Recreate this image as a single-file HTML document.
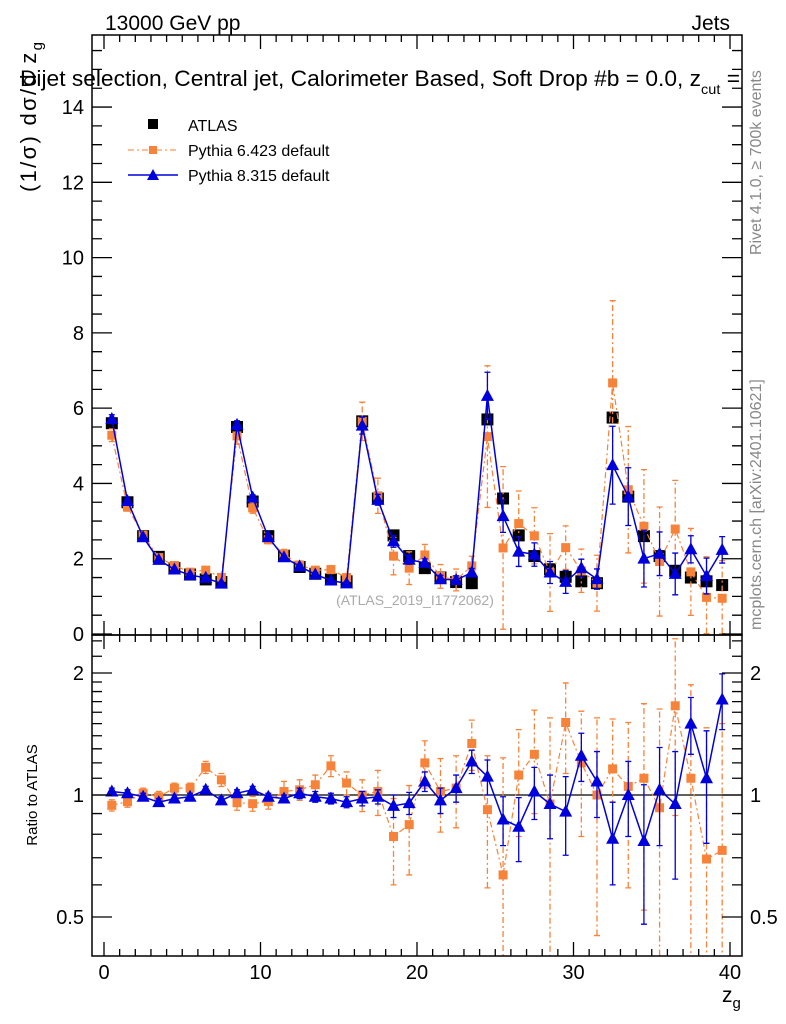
<!DOCTYPE html>
<html><head><meta charset="utf-8">
<style>
html,body{margin:0;background:#fff;overflow:hidden;width:786px;height:1024px;}
svg{display:block;font-family:"Liberation Sans",Arial,sans-serif;}
</style></head>
<body>
<svg id="plot" width="786" height="1024" viewBox="0 0 786 1024" xmlns="http://www.w3.org/2000/svg">
<text x="105" y="30" font-size="21">13000 GeV pp</text>
<text x="730" y="30" font-size="21" text-anchor="end">Jets</text>
<text transform="translate(36,192) rotate(-90)" font-size="22" textLength="150">(1/σ) dσ/d z<tspan font-size="15" dy="6">g</tspan></text>
<text x="20" y="86" font-size="22" textLength="720" lengthAdjust="spacingAndGlyphs">Dijet selection, Central jet, Calorimeter Based, Soft Drop #b = 0.0, z<tspan font-size="14" dy="8">cut</tspan><tspan dy="-8"> =</tspan></text>
<text transform="translate(761,255) rotate(-90)" font-size="16" fill="#888">Rivet 4.1.0, ≥ 700k events</text>
<text transform="translate(761,630) rotate(-90)" font-size="16" fill="#888">mcplots.cern.ch [arXiv:2401.10621]</text>
<text x="415" y="605" font-size="14" fill="#aaa" text-anchor="middle">(ATLAS_2019_I1772062)</text>
<text transform="translate(37,795) rotate(-90)" font-size="15" text-anchor="middle">Ratio to ATLAS</text>
<text x="722" y="1002" font-size="21">z<tspan font-size="15" dy="6">g</tspan></text>
<g id="legend">
 <rect x="148" y="119" width="10" height="10" fill="#000"/>
 <text x="188" y="131" font-size="16">ATLAS</text>
 <line x1="128" y1="150" x2="178" y2="150" stroke="#ff7f2a" stroke-dasharray="6,3,2,3"/>
 <rect x="149" y="146" width="8" height="8" fill="#f7833a"/>
 <text x="188" y="156" font-size="16">Pythia 6.423 default</text>
 <line x1="128" y1="175" x2="178" y2="175" stroke="#0000dd" stroke-width="1.5"/>
 <path d="M153,169 L159,180 L147,180 Z" fill="#0000dd"/>
 <text x="188" y="181" font-size="16">Pythia 8.315 default</text>
</g>
<g id="marks"></g>
<g id="axes"></g>
</svg>
<script>
const binCenters=[0.5,1.5,2.5,3.5,4.5,5.5,6.5,7.5,8.5,9.5,10.5,11.5,12.5,13.5,14.5,15.5,16.5,17.5,18.5,19.5,20.5,21.5,22.5,23.5,24.5,25.5,26.5,27.5,28.5,29.5,30.5,31.5,32.5,33.5,34.5,35.5,36.5,37.5,38.5,39.5];
const atlasValues=[5.6,3.5,2.6,2.05,1.75,1.58,1.45,1.38,5.5,3.52,2.6,2.08,1.78,1.6,1.45,1.4,5.65,3.6,2.62,2.07,1.75,1.5,1.38,1.35,5.7,3.6,2.62,2.07,1.72,1.52,1.4,1.35,5.75,3.65,2.6,2.07,1.68,1.5,1.4,1.3];
const py6Ratio=[0.943,0.963,1.01,0.99,1.04,1.04,1.17,1.09,0.957,0.952,0.963,1.02,1.03,1.06,1.18,1.07,1.0,1.02,0.79,0.845,1.2,1.02,1.04,1.34,0.92,0.635,1.12,1.26,0.95,1.51,1.2,1.0,1.16,1.05,1.1,0.93,1.66,1.1,0.695,0.73];
const py6RatioErr=[0.03,0.03,0.03,0.03,0.03,0.03,0.04,0.04,0.04,0.04,0.04,0.06,0.06,0.06,0.07,0.07,0.09,0.13,0.19,0.21,0.16,0.21,0.21,0.19,0.33,0.6,0.33,0.36,0.6,0.38,0.41,0.55,0.38,0.46,0.58,0.7,0.77,0.77,0.77,0.77];
const py8Ratio=[1.02,1.01,0.99,0.96,0.98,0.99,1.03,0.97,1.01,1.03,0.99,0.98,1.01,0.99,0.98,0.96,0.98,0.99,0.94,0.955,1.08,0.97,1.04,1.21,1.11,0.87,0.835,1.02,0.95,0.91,1.25,1.08,0.78,1.0,0.77,1.03,0.95,1.5,1.1,1.72];
const py8RatioErr=[0.02,0.02,0.02,0.02,0.02,0.02,0.02,0.02,0.02,0.02,0.02,0.02,0.03,0.03,0.03,0.03,0.04,0.04,0.06,0.06,0.06,0.07,0.08,0.08,0.11,0.12,0.15,0.15,0.17,0.2,0.17,0.2,0.18,0.21,0.29,0.28,0.33,0.24,0.34,0.27];
const mainTicks=[0,2,4,6,8,10,12,14];
const ratioTicks=[0.5,1,2];
const xTicks=[0,10,20,30,40];

const NS="http://www.w3.org/2000/svg";
const L=92,R=742,MT=35,MB=635,RB=956;
const xs=v=>104+v*15.65;
const ym=v=>634-v*37.64;
const yr=r=>795-122*Math.log2(r);
const marks=document.getElementById('marks'),axes=document.getElementById('axes');
function mk(tag,attrs,parent){const e=document.createElementNS(NS,tag);for(const k in attrs)e.setAttribute(k,attrs[k]);parent.appendChild(e);return e;}

const defs=mk('defs',{},marks);
const c1=mk('clipPath',{id:'cm'},defs);mk('rect',{x:L,y:MT,width:R-L,height:MB-MT},c1);
const c2=mk('clipPath',{id:'cr'},defs);mk('rect',{x:L,y:MB,width:R-L,height:RB-MB},c2);
const gm=mk('g',{'clip-path':'url(#cm)'},marks);
const gr=mk('g',{'clip-path':'url(#cr)'},marks);

mk('line',{x1:L,x2:R,y1:yr(1),y2:yr(1),stroke:'#000','stroke-width':1.3},gr);

function series(g,yfun,vals,errs,color,dash,shape,name,drawLine){
  if(drawLine){
    let d='';
    vals.forEach((v,i)=>{d+=(i?'L':'M')+xs(binCenters[i]).toFixed(1)+','+yfun(v).toFixed(1);});
    const line=mk('path',{d:d,fill:'none',stroke:color,'stroke-width':shape==='tri'?1.5:1.2},g);
    if(dash)line.setAttribute('stroke-dasharray',dash);
    
    
  }
  vals.forEach((v,i)=>{
    const x=xs(binCenters[i]);
    if(errs){
      const lo=Math.max(v-errs[i],0.01),hi=v+errs[i];
      const el=mk('path',{d:`M${x},${yfun(lo)}L${x},${yfun(hi)}M${x-3},${yfun(lo)}L${x+3},${yfun(lo)}M${x-3},${yfun(hi)}L${x+3},${yfun(hi)}`,stroke:color,'stroke-width':1.3,fill:'none'},g);
      if(dash)el.setAttribute('stroke-dasharray',dash);
      
      
    }
    const y=yfun(v);let m;
    if(shape==='tri')m=mk('path',{d:`M${x},${y-7}L${x+6.5},${y+5}L${x-6.5},${y+5}Z`,fill:color},g);
    else if(shape==='big')m=mk('rect',{x:x-6,y:y-6,width:12,height:12,fill:color},g);
    else m=mk('rect',{x:x-4.5,y:y-4.5,width:9,height:9,fill:color},g);
    
    
  });
}
const py6Main=py6Ratio.map((r,i)=>r*atlasValues[i]);
const py6MainErr=py6RatioErr.map((e,i)=>e*atlasValues[i]);
const py8Main=py8Ratio.map((r,i)=>r*atlasValues[i]);
const py8MainErr=py8RatioErr.map((e,i)=>e*atlasValues[i]);
series(gm,ym,atlasValues,null,'#000',null,'big','atlas',false);
series(gm,ym,py6Main,py6MainErr,'#f7833a','6,3,2,3','sq','py6',true);
series(gm,ym,py8Main,py8MainErr,'#0000dd',null,'tri','py8',true);
series(gr,yr,py6Ratio,py6RatioErr,'#f7833a','6,3,2,3','sq','py6-ratio',true);
series(gr,yr,py8Ratio,py8RatioErr,'#0000dd',null,'tri','py8-ratio',true);

const f1=mk('rect',{x:L,y:MT,width:R-L,height:MB-MT,fill:'none',stroke:'#000','stroke-width':1.5},axes);

const f2=mk('rect',{x:L,y:MB,width:R-L,height:RB-MB,fill:'none',stroke:'#000','stroke-width':1.5},axes);

let tp='';
for(let v=0;v<=41;v++){
  const x=xs(v);if(x>R)break;const len=(v%10===0)?14:7;
  [MT,MB].forEach(y0=>{tp+=`M${x},${y0}L${x},${y0+len}`;});
  [MB,RB].forEach(y0=>{tp+=`M${x},${y0}L${x},${y0-len}`;});
}
for(let v=0;v<=15.5;v+=0.5){const y=ym(v);const len=(v%2===0)?20:10;tp+=`M${L},${y}L${L+len},${y}M${R},${y}L${R-len},${y}`;}
[0.4,0.5,0.6,0.7,0.8,0.9,1,1.1,1.2,1.3,1.4,1.5,1.6,1.7,1.8,1.9,2,2.2,2.4].forEach(r=>{const y=yr(r);if(y<MB||y>RB)return;const len=ratioTicks.includes(r)?20:10;tp+=`M${L},${y}L${L+len},${y}M${R},${y}L${R-len},${y}`;});
mk('path',{d:tp,stroke:'#000','stroke-width':1.3,fill:'none'},axes);

mainTicks.forEach(v=>{const t=mk('text',{x:L-8,y:ym(v)+7,'font-size':20,'text-anchor':'end'},axes);t.textContent=v;
});
ratioTicks.forEach(r=>{[[L-8,'end'],[R+8,'start']].forEach(([x,a])=>{const t=mk('text',{x:x,y:yr(r)+7,'font-size':20,'text-anchor':a},axes);t.textContent=r;
});});
xTicks.forEach(v=>{const t=mk('text',{x:xs(v),y:979,'font-size':20,'text-anchor':'middle'},axes);t.textContent=v;
});
</script>
</body></html>
